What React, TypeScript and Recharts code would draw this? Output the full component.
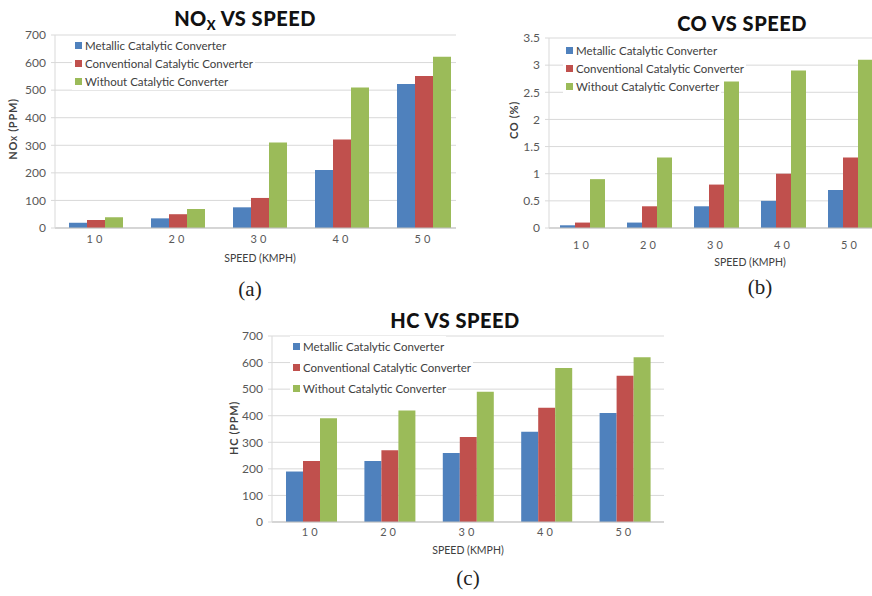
import { BarChart, Bar, XAxis, YAxis, CartesianGrid, Legend } from "recharts";

const FONT = "Lato, 'Open Sans', sans-serif";
const SPEEDS = ["10", "20", "30", "40", "50"];
const SERIES = ["Metallic Catalytic Converter", "Conventional Catalytic Converter", "Without Catalytic Converter"];
const COLORS = ["#4F81BD", "#C0504D", "#9BBB59"];

// NOx (PPM)
const NOX_METALLIC = [19, 35, 75, 210, 522];
const NOX_CONVENTIONAL = [29, 50, 109, 321, 551];
const NOX_WITHOUT = [39, 69, 310, 510, 621];
const PPM_TICKS = [0, 100, 200, 300, 400, 500, 600, 700];

// CO (%)
const CO_METALLIC = [0.05, 0.1, 0.4, 0.5, 0.7];
const CO_CONVENTIONAL = [0.1, 0.4, 0.8, 1.0, 1.3];
const CO_WITHOUT = [0.9, 1.3, 2.7, 2.9, 3.1];
const CO_TICKS = [0, 0.5, 1, 1.5, 2, 2.5, 3, 3.5];

// HC (PPM)
const HC_METALLIC = [190, 230, 260, 340, 410];
const HC_CONVENTIONAL = [230, 270, 320, 430, 550];
const HC_WITHOUT = [390, 420, 490, 580, 620];

const rows = (a: number[], b: number[], c: number[]) =>
  SPEEDS.map((s, i) => ({ speed: s, metallic: a[i], conventional: b[i], without: c[i] }));

const KEYS = ["metallic", "conventional", "without"];

// each entry gets its own white box, so tall bars next to short rows stay visible
function LegendBox({ rowHeight }: { rowHeight: number }) {
  return (
    <div style={{ fontFamily: FONT, fontSize: 11.5, color: "#404040", whiteSpace: "nowrap" }}>
      {SERIES.map((name, i) => (
        <div key={name} style={{ height: rowHeight }}>
          <div
            style={{
              display: "inline-flex",
              alignItems: "center",
              height: rowHeight,
              background: "#fff",
              padding: "0 2px 0 3px",
            }}
          >
            <span style={{ width: 7, height: 7, background: COLORS[i], marginRight: 3 }} />
            {name}
          </div>
        </div>
      ))}
    </div>
  );
}

type PanelProps = {
  left: number;
  top: number;
  clipWidth: number;
  width: number;
  height: number;
  margin: { top: number; right: number; bottom: number; left: number };
  yWidth: number;
  data: any[];
  ticks: number[];
  barSize: number;
  xTickMargin: number;
  xTitle: { x: number; y: number };
  yTitle: { x: number; y: number; node: any };
  legend: { left: number; top: number; row: number };
};

function Panel(p: PanelProps) {
  return (
    <div style={{ position: "absolute", left: p.left, top: p.top, width: p.clipWidth, height: p.height, overflow: "hidden" }}>
      <BarChart width={p.width} height={p.height} data={p.data} margin={p.margin} barGap={0}>
        <CartesianGrid vertical={false} stroke="#d9d9d9" />
        <XAxis
          dataKey="speed"
          height={30}
          tickSize={0}
          tickMargin={p.xTickMargin}
          axisLine={{ stroke: "#bfbfbf" }}
          tick={{ fill: "#595959", fontSize: 11, fontFamily: FONT, letterSpacing: 3 }}
          label={() => (
            <text x={p.xTitle.x} y={p.xTitle.y} textAnchor="middle" dominantBaseline="central"
              fontFamily={FONT} fontSize={10.5} fill="#404040">
              SPEED (KMPH)
            </text>
          )}
        />
        <YAxis
          width={p.yWidth}
          domain={[p.ticks[0], p.ticks[p.ticks.length - 1]]}
          ticks={p.ticks}
          interval={0}
          tickSize={4}
          tickMargin={5}
          tickLine={{ stroke: "#d9d9d9" }}
          axisLine={{ stroke: "#d9d9d9" }}
          tick={{ fill: "#595959", fontSize: 12, fontFamily: FONT }}
          label={() => (
            <text x={p.yTitle.x} y={p.yTitle.y} transform={`rotate(-90 ${p.yTitle.x} ${p.yTitle.y})`}
              textAnchor="middle" dominantBaseline="central" fontFamily={FONT} fontSize={11}
              fontWeight="bold" letterSpacing={0.7} fill="#404040">
              {p.yTitle.node}
            </text>
          )}
        />
        <Legend
          layout="vertical"
          align="center"
          verticalAlign="middle"
          wrapperStyle={{ left: p.legend.left, top: p.legend.top, width: "auto", height: "auto" }}
          content={() => <LegendBox rowHeight={p.legend.row} />}
        />
        {KEYS.map((k, i) => (
          <Bar key={k} dataKey={k} name={SERIES[i]} fill={COLORS[i]} barSize={p.barSize} isAnimationActive={false} />
        ))}
      </BarChart>
    </div>
  );
}

const titleStyle = (x: number, y: number): any => ({
  position: "absolute",
  left: x - 150,
  top: y - 14,
  width: 300,
  height: 28,
  lineHeight: "28px",
  textAlign: "center",
  fontFamily: FONT,
  fontWeight: 900,
  fontSize: 20,
  color: "#111",
  letterSpacing: 0.5,
});

const captionStyle = (x: number, y: number): any => ({
  position: "absolute",
  left: x - 30,
  top: y - 13,
  width: 60,
  height: 26,
  lineHeight: "26px",
  textAlign: "center",
  fontFamily: "'Liberation Serif', 'DejaVu Serif', serif",
  fontSize: 21,
  color: "#222",
});

export default function App() {
  return (
    <div style={{ position: "absolute", left: 0, top: 0, width: 872, height: 596, background: "#fff", overflow: "hidden" }}>
      <Panel
        left={0}
        top={0}
        clipWidth={456}
        width={480}
        height={300}
        margin={{ top: 35, right: 15, bottom: 42, left: 0 }}
        yWidth={55}
        data={rows(NOX_METALLIC, NOX_CONVENTIONAL, NOX_WITHOUT)}
        ticks={PPM_TICKS}
        barSize={18}
        xTickMargin={7}
        xTitle={{ x: 260, y: 258 }}
        yTitle={{
          x: 12,
          y: 129,
          node: (
            <>
              NO<tspan fontSize={7.5} dy={2}>X</tspan>
              <tspan dy={-2}> (PPM)</tspan>
            </>
          ),
        }}
        legend={{ left: 72, top: 36, row: 18 }}
      />
      <Panel
        left={490}
        top={0}
        clipWidth={382}
        width={420}
        height={300}
        margin={{ top: 38, right: 26, bottom: 42, left: 0 }}
        yWidth={59}
        data={rows(CO_METALLIC, CO_CONVENTIONAL, CO_WITHOUT)}
        ticks={CO_TICKS}
        barSize={15}
        xTickMargin={13}
        xTitle={{ x: 260, y: 262 }}
        yTitle={{ x: 23, y: 120, node: "CO (%)" }}
        legend={{ left: 73, top: 41, row: 18 }}
      />
      <Panel
        left={210}
        top={300}
        clipWidth={460}
        width={470}
        height={296}
        margin={{ top: 36, right: 16, bottom: 44, left: 0 }}
        yWidth={62}
        data={rows(HC_METALLIC, HC_CONVENTIONAL, HC_WITHOUT)}
        ticks={PPM_TICKS}
        barSize={17}
        xTickMargin={6}
        xTitle={{ x: 258, y: 250 }}
        yTitle={{ x: 23, y: 128, node: "HC (PPM)" }}
        legend={{ left: 80, top: 36, row: 21 }}
      />

      <div style={titleStyle(245, 18)}>
        NO<sub style={{ fontSize: 13, verticalAlign: -4 }}>X</sub> VS SPEED
      </div>
      <div style={titleStyle(742, 23)}>CO VS SPEED</div>
      <div style={titleStyle(455, 320)}>HC VS SPEED</div>

      <div style={captionStyle(250, 289)}>(a)</div>
      <div style={captionStyle(760, 287)}>(b)</div>
      <div style={captionStyle(468, 578)}>(c)</div>
    </div>
  );
}
